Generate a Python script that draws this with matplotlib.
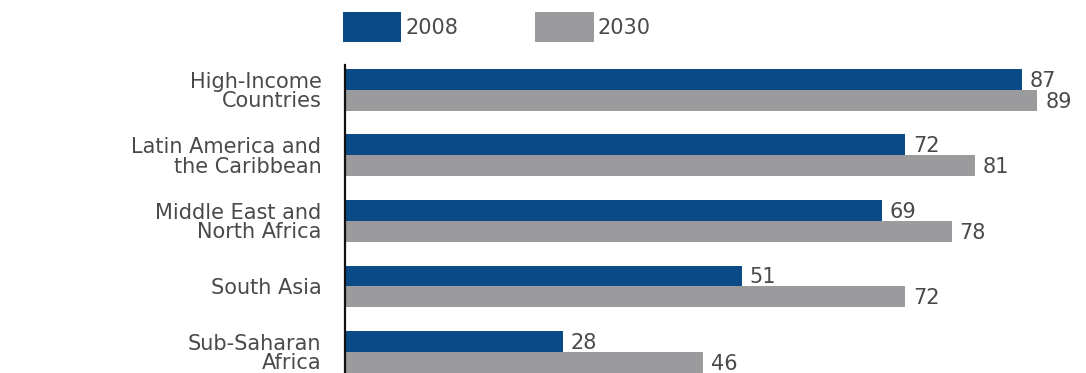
import matplotlib
matplotlib.use("Agg")
import matplotlib.pyplot as plt
import numpy as np

regions = ["High-Income\nCountries", "Latin America and\nthe Caribbean",
           "Middle East and\nNorth Africa", "South Asia", "Sub-Saharan\nAfrica"]
share_2008 = [87, 72, 69, 51, 28]
share_2030 = [89, 81, 78, 72, 46]
years = ["2008", "2030"]

blue = "#0a4a86"
grey = "#9b9b9d"
txt = "#4a4a4a"

plt.rcParams["font.family"] = "DejaVu Sans"

fig = plt.figure(figsize=(10.86, 3.73), dpi=100)
ax = fig.add_axes([345 / 1086, 0, 1 - 345 / 1086, (373 - 65) / 373])

y = np.arange(len(regions))
h = 0.32
b1 = ax.barh(y - h / 2, share_2008, height=h, color=blue, label=years[0])
b2 = ax.barh(y + h / 2, share_2030, height=h, color=grey, label=years[1])

for bars, vals in ((b1, share_2008), (b2, share_2030)):
    for bar, v in zip(bars, vals):
        ax.text(bar.get_width() + 1.0, bar.get_y() + bar.get_height() / 2 + 0.02,
                str(v), va="center", ha="left", fontsize=15, color=txt)

ax.set_xlim(0, (1086 - 345) / 7.78)
ax.set_ylim(4.32, -0.38)
ax.set_yticks(y)
ax.set_yticklabels(regions, fontsize=15, color=txt, linespacing=0.95)
for lab in ax.get_yticklabels():
    lab.set_horizontalalignment("right")
ax.tick_params(axis="y", length=0, pad=17)
ax.set_xticks([])
for s in ("top", "right", "bottom"):
    ax.spines[s].set_visible(False)
ax.spines["left"].set_linewidth(1.6)
ax.spines["left"].set_color("#111111")

fig.legend(handles=[b1, b2], labels=years, loc="center left",
           bbox_to_anchor=(343 / 1086, 1 - 27 / 373), ncol=2, frameon=False,
           fontsize=15, handlelength=2.8, handleheight=1.9, handletextpad=0.2,
           columnspacing=3.7, borderpad=0, borderaxespad=0, labelcolor=txt)

fig.savefig("out.png", dpi=100)
